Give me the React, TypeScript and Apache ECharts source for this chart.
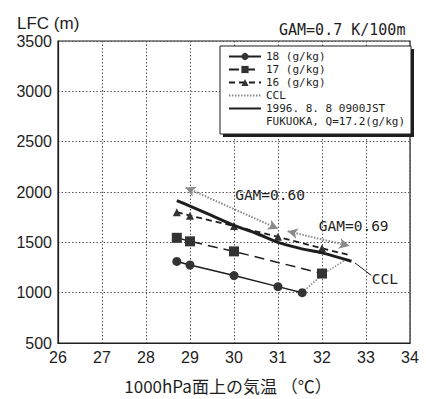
import React, { useEffect, useRef } from "react";
import * as echarts from "echarts";

// ---- data ----
const temps18 = [28.7, 29, 30, 31, 31.55];
const lfc18 = [1310, 1275, 1170, 1060, 1000];

const temps17 = [28.7, 29, 30, 32];
const lfc17 = [1545, 1510, 1410, 1190];

const temps16 = [28.7, 29, 30, 31, 32, 32.65];
const lfc16 = [1800, 1765, 1662, 1555, 1440, 1370];

const tempsObs = [28.7, 29, 29.5, 30, 30.5, 31, 31.5, 32, 32.67];
const lfcObs = [1915, 1860, 1765, 1668, 1590, 1500, 1440, 1395, 1312];

const tempsCCL = [31.55, 32.03, 32.55];
const lfcCCL = [1000, 1188, 1330];

const gam060 = [[28.9, 2045], [31.0, 1635]];
const gam069 = [[31.22, 1610], [32.62, 1465]];
const cclLeader = [[32.75, 1295], [33.12, 1172]];

const labelGam060: [number, number] = [30.82, 1968];
const labelGam069: [number, number] = [32.72, 1662];
const labelCCL: [number, number] = [33.43, 1132];

const names = {
  s18: "18 (g/kg)",
  s17: "17 (g/kg)",
  s16: "16 (g/kg)",
  ccl: "CCL",
  obs: "1996. 8. 8 0900JST",
  obs2: "FUKUOKA, Q=17.2(g/kg)",
};

const xTicks = { min: 26, max: 34, interval: 1 };
const yTicks = { min: 500, max: 3500, interval: 500 };

const zip = (xs: number[], ys: number[]) => xs.map((x, i) => [x, ys[i]]);

const MONO = "'DejaVu Sans Mono', monospace";
const SANS = "'Liberation Sans', Arial, sans-serif";
const INK = "#1e1e1e";
const GRAY = "#8a8a8a";

export default function App() {
  const ref = useRef<HTMLDivElement>(null);
  useEffect(() => {
    if (!ref.current) return;
    const chart = echarts.init(ref.current, undefined, { renderer: "svg" });
    const last16 = temps16.length - 1;
    chart.setOption({
      animation: false,
      backgroundColor: "#fff",
      title: [
        {
          text: "LFC (m)",
          left: 12,
          top: 10,
          textStyle: { fontSize: 17, fontWeight: "normal", color: INK, fontFamily: SANS },
        },
        {
          text: "GAM=0.7 K/100m",
          left: 274,
          top: 17,
          textStyle: { fontSize: 15, fontWeight: "normal", color: INK, fontFamily: MONO },
        },
      ],
      grid: {
        left: 58,
        right: 16,
        top: 41,
        bottom: 54,
        show: true,
        borderColor: INK,
        borderWidth: 1.2,
        backgroundColor: "transparent",
      },
      xAxis: {
        type: "value",
        ...xTicks,
        name: "1000hPa面上の気温 （℃）",
        nameLocation: "middle",
        nameGap: 34,
        nameTextStyle: { fontSize: 17, color: INK, fontFamily: "'Noto Sans CJK JP', sans-serif", padding: [0, 12, 0, 0] },
        axisLine: { lineStyle: { color: INK, width: 1.2 } },
        axisTick: { show: false },
        axisLabel: { fontSize: 16, color: INK, fontFamily: SANS, margin: 6 },
        splitLine: { show: true, lineStyle: { color: "#555", type: [1.5, 2], width: 1 } },
      },
      yAxis: {
        type: "value",
        ...yTicks,
        axisLine: { show: true, lineStyle: { color: INK, width: 1.2 } },
        axisTick: { show: false },
        axisLabel: { fontSize: 16, color: INK, fontFamily: SANS, margin: 6, formatter: (v: number) => String(v) },
        splitLine: { show: true, lineStyle: { color: "#555", type: [1.5, 2], width: 1 } },
      },
      legend: {
        orient: "vertical",
        left: 228,
        top: 51,
        padding: 0,
        itemGap: 2,
        itemWidth: 32,
        itemHeight: 9,
        selectedMode: false,
        z: 20,
        textStyle: { fontSize: 11, color: INK, fontFamily: MONO, lineHeight: 11 },
        data: [
          { name: names.s18 },
          { name: names.s17 },
          { name: names.s16 },
          { name: names.ccl, itemStyle: { opacity: 0 } },
          { name: names.obs, itemStyle: { opacity: 0 } },
          { name: names.obs2, itemStyle: { opacity: 0 }, lineStyle: { opacity: 0 } },
        ],
      },
      graphic: [
        { type: "rect", z: 10, shape: { x: 223, y: 49, width: 191, height: 88 }, style: { fill: INK } },
        { type: "rect", z: 11, shape: { x: 220, y: 46, width: 191, height: 88 }, style: { fill: "#fff", stroke: INK, lineWidth: 1 } },
      ],
      series: [
        {
          name: names.ccl,
          type: "line",
          data: zip(tempsCCL, lfcCCL),
          symbol: "none",
          lineStyle: { color: GRAY, width: 1.5, type: [1.5, 1.5] },
          itemStyle: { color: GRAY },
          z: 3,
          markLine: {
            silent: true,
            symbol: ["arrow", "arrow"],
            symbolSize: [8, 10],
            lineStyle: { color: GRAY, width: 2, type: [1.5, 1.5] },
            label: { show: false },
            data: [
              [{ coord: gam060[0] }, { coord: gam060[1] }],
              [{ coord: gam069[0] }, { coord: gam069[1] }],
            ],
          },
          markPoint: {
            silent: true,
            symbol: "circle",
            symbolSize: 0,
            label: { show: true, position: "inside", fontSize: 14.5, color: INK, fontFamily: MONO },
            data: [
              { coord: labelGam060, value: "GAM=0.60", label: { formatter: "GAM=0.60" } },
              { coord: labelGam069, value: "GAM=0.69", label: { formatter: "GAM=0.69" } },
              { coord: labelCCL, value: "CCL", label: { formatter: "CCL" } },
            ],
          },
        },
        {
          name: "leader",
          type: "line",
          data: zip(cclLeader.map((p) => p[0]), cclLeader.map((p) => p[1])),
          symbol: "none",
          lineStyle: { color: INK, width: 1 },
          z: 3,
        },
        {
          name: names.s18,
          type: "line",
          data: zip(temps18, lfc18),
          symbol: "circle",
          symbolSize: 9,
          lineStyle: { color: INK, width: 1.5 },
          itemStyle: { color: "#333" },
          z: 4,
        },
        {
          name: names.s17,
          type: "line",
          data: zip(temps17, lfc17),
          symbol: "rect",
          symbolSize: 10,
          lineStyle: { color: INK, width: 1.5, type: [10, 6] },
          itemStyle: { color: "#333" },
          z: 4,
        },
        {
          name: names.s16,
          type: "line",
          data: temps16.map((t, i) =>
            i === last16 ? { value: [t, lfc16[i]], symbol: "none" } : [t, lfc16[i]]
          ),
          symbol: "triangle",
          symbolSize: 8,
          lineStyle: { color: INK, width: 1.8, type: [6, 4] },
          itemStyle: { color: "#333" },
          z: 4,
        },
        {
          name: names.obs,
          type: "line",
          data: zip(tempsObs, lfcObs),
          symbol: "none",
          smooth: 0.3,
          lineStyle: { color: INK, width: 3 },
          itemStyle: { color: INK },
          z: 5,
        },
        {
          name: names.obs2,
          type: "line",
          data: [],
          symbol: "none",
          lineStyle: { opacity: 0 },
        },
      ],
    });
    return () => chart.dispose();
  }, []);
  return (
    <div
      ref={ref}
      style={{ position: "fixed", left: 0, top: 0, width: 426, height: 399 }}
    />
  );
}
